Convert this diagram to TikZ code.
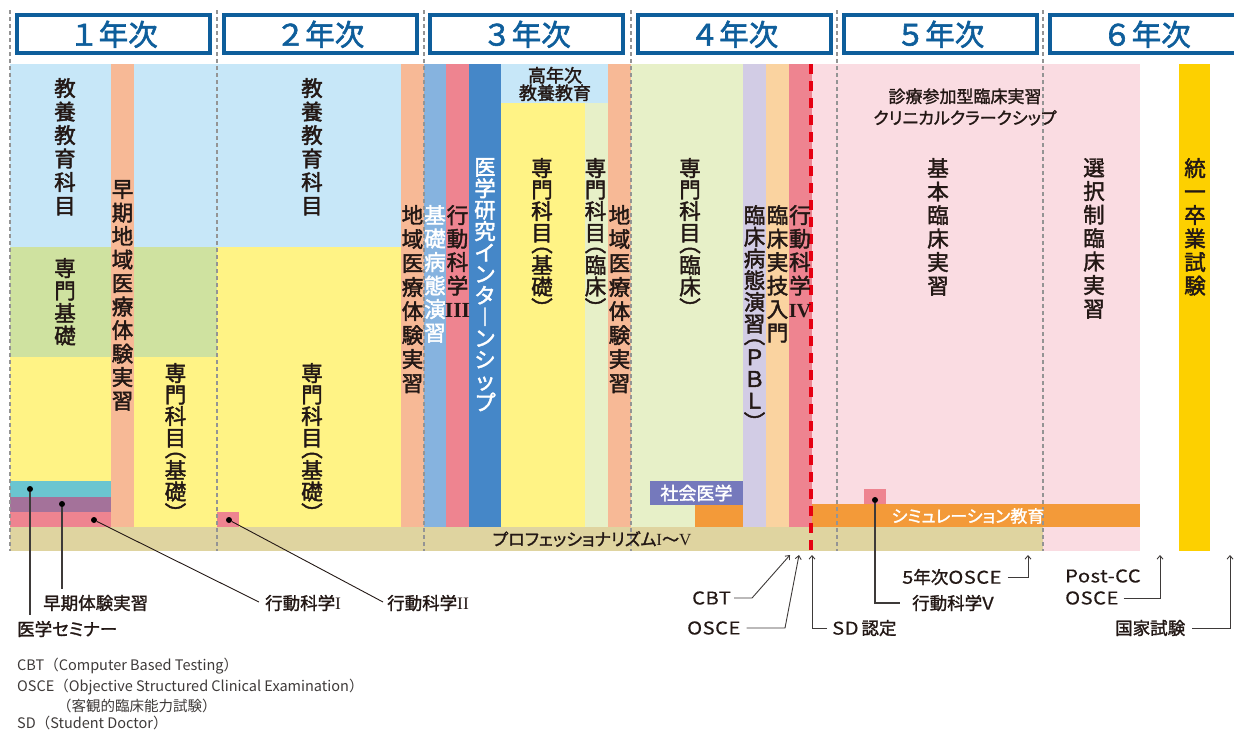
\documentclass[tikz,border=0pt]{standalone}
\usepackage{fontspec}
\setmainfont{Noto Sans CJK JP}
\newfontfamily\jpm[FakeBold=2]{Noto Sans CJK JP}
\newfontfamily\jpmp[FakeBold=1.5,RawFeature=+palt]{Noto Sans CJK JP}
\newfontfamily\jpl[FakeStretch=1.15,LetterSpace=3,FakeBold=0.4]{Noto Sans CJK JP}
\newfontfamily\rmn{Liberation Serif}
\usetikzlibrary{arrows.meta}
\definecolor{hblue}{HTML}{0E5E9B}
\definecolor{ink}{HTML}{231815}
\definecolor{notegray}{HTML}{3E3A39}
\definecolor{leadgray}{HTML}{3E3A39}
\definecolor{lblue}{HTML}{C7E7F8}
\definecolor{green1}{HTML}{CFE2A0}
\definecolor{yel}{HTML}{FFF385}
\definecolor{orng}{HTML}{F7B996}
\definecolor{cyan1}{HTML}{6BC5D0}
\definecolor{purp}{HTML}{A4729A}
\definecolor{pink1}{HTML}{EE8490}
\definecolor{tan}{HTML}{DFD4A0}
\definecolor{sblue}{HTML}{86B3DF}
\definecolor{dblue}{HTML}{4587C8}
\definecolor{lgreen}{HTML}{E7F0C8}
\definecolor{lav}{HTML}{D2CCE5}
\definecolor{peach}{HTML}{FAD3A0}
\definecolor{lpink}{HTML}{FADCE2}
\definecolor{orng2}{HTML}{F39A39}
\definecolor{socmed}{HTML}{7579BC}
\definecolor{gold}{HTML}{FDD000}
\definecolor{redd}{HTML}{E60012}
\newcommand\fsz[2]{\fontsize{#1}{#2}\selectfont}
\newcommand\vlp{\rotatebox[origin=c]{-90}{（}}
\newcommand\vrp{\rotatebox[origin=c]{-90}{）}}
\newcommand\rnum[1]{{\rmn\bfseries #1}}
\begin{document}
\begin{tikzpicture}[x=1pt,y=-1pt,
  txt/.style={text=ink, inner sep=0pt},
  vt/.style={txt, align=center, anchor=north, font=\jpm\fsz{21.5}{23.5}},
  vtp/.style={vt, font=\jpm\fsz{21.5}{21.5}},
  vtw/.style={vt, text=white},
  lbl/.style={txt, anchor=west, font=\jpmp\fsz{17.5}{20}},
  note/.style={text=notegray, inner sep=0pt, anchor=west, font=\fsz{14.5}{16}},
  lead/.style={draw=leadgray, line width=1.2pt},
  thinlead/.style={draw=ink, line width=0.9pt},
  arr/.style={draw=leadgray, line width=0.9pt, -{Straight Barb[length=3.5pt,width=6pt]}},
  yearbox/.style={draw=hblue, line width=4pt, fill=white, minimum width=193pt, minimum height=38pt, inner sep=0pt, text=hblue, font=\jpm\fsz{29.5}{30}},
  dot/.style={circle, fill=black, inner sep=0pt, minimum size=6pt},
  ydash/.style={draw=black!42, line width=1.1pt, dash pattern=on 4pt off 3pt},
  reddash/.style={draw=redd, line width=4.5pt, dash pattern=on 10pt off 7pt},
]
\path[use as bounding box] (0,0) rectangle (1234,729);

% ---------- fills ----------
% year 1
\fill[lblue] (10,64) rectangle (217,247);
\fill[green1] (10,247) rectangle (217,357);
\fill[yel] (10,357) rectangle (217,527);
\fill[cyan1] (10,481) rectangle (111,497);
\fill[purp] (10,497) rectangle (111,512);
\fill[pink1] (10,512) rectangle (111,527);
\fill[orng] (111,64) rectangle (134,527);
% year 2
\fill[lblue] (217,64) rectangle (401,247);
\fill[yel] (217,247) rectangle (401,527);
\fill[pink1] (217,512) rectangle (239,527);
\fill[orng] (401,64) rectangle (424,527);
% year 3
\fill[sblue] (424,64) rectangle (446,527);
\fill[pink1] (446,64) rectangle (469,527);
\fill[dblue] (469,64) rectangle (501,527);
\fill[lblue] (501,64) rectangle (608,103);
\fill[yel] (501,103) rectangle (585,527);
\fill[lgreen] (585,103) rectangle (608,527);
\fill[orng] (608,64) rectangle (631,527);
% year 4
\fill[lgreen] (631,64) rectangle (743,527);
\fill[orng2] (695,505) rectangle (743,527);
\fill[lav] (743,64) rectangle (766,527);
\fill[peach] (766,64) rectangle (789,527);
\fill[pink1] (789,64) rectangle (812,527);
% years 5-6
\fill[lpink] (812,64) rectangle (1140,551);
\fill[pink1] (864,489) rectangle (886,504);
\fill[orng2] (812,504) rectangle (1140,527);
\fill[gold] (1179,64) rectangle (1210,551);
% professionalism bar
\fill[tan] (10,527) rectangle (1043,551);

% ---------- year dividers ----------
\foreach \xx in {10,217,424,631,837,1043} \draw[ydash] (\xx,10) -- (\xx,551);
\draw[reddash] (811,64) -- (811,551);

% ---------- year headers ----------
\node[yearbox] (h1) at (113.5,34.3) {１年次};
\node[yearbox] (h2) at (320,34.3) {２年次};
\node[yearbox] (h3) at (526.5,34.3) {３年次};
\node[yearbox] (h4) at (734,34.3) {４年次};
\node[yearbox] (h5) at (940,34.3) {５年次};
\node[yearbox] (h6) at (1146.5,34.3) {６年次};

% ---------- vertical texts ----------
\node[vt] (t1a) at (65,78) {教\\養\\教\\育\\科\\目};
\node[vt, font=\jpm\fsz{21.5}{22.5}] (t1b) at (65,258) {専\\門\\基\\礎};
\node[vt] (t1c) at (122.5,180) {早\\期\\地\\域\\医\\療\\体\\験\\実\\習};
\node[vtp] (t1d) at (175.5,363) {専\\門\\科\\目\\[-10.5pt]\vlp\\基\\礎\\\vrp};
\node[vt] (t2a) at (312,78) {教\\養\\教\\育\\科\\目};
\node[vtp] (t2b) at (312,363) {専\\門\\科\\目\\[-10.5pt]\vlp\\基\\礎\\\vrp};
\node[vt, font=\jpm\fsz{21.5}{24}] (t2c) at (412.5,205) {地\\域\\医\\療\\体\\験\\実\\習};
\node[vtw] (t3a) at (435,205) {基\\礎\\病\\態\\演\\習};
\node[vt] (t3b) at (457.5,205) {行\\動\\科\\学\\\rnum{III}};
\node[vtw, font=\jpm\fsz{21.5}{21.4}] (t3c) at (485,158) {医\\学\\研\\究\\イ\\ン\\タ\\︱\\ン\\シ\\ッ\\プ};
\node[vtp] (t3d) at (542,158) {専\\門\\科\\目\\[-10.5pt]\vlp\\基\\礎\\\vrp};
\node[vtp] (t3e) at (595.5,158) {専\\門\\科\\目\\[-10.5pt]\vlp\\臨\\床\\\vrp};
\node[vt, font=\jpm\fsz{21.5}{24}] (t3f) at (619.5,205) {地\\域\\医\\療\\体\\験\\実\\習};
\node[vtp] (t4a) at (690,158) {専\\門\\科\\目\\[-10.5pt]\vlp\\臨\\床\\\vrp};
\node[vt, font=\jpm\fsz{21.5}{21.7}] (t4b) at (754.5,205) {臨\\床\\病\\態\\演\\習\\[-10pt]\vlp\\Ｐ\\Ｂ\\Ｌ\\\vrp};
\node[vt] (t4c) at (777.5,205) {臨\\床\\実\\技\\入\\門};
\node[vt] (t4d) at (800,205) {行\\動\\科\\学\\{\fontsize{20}{20}\selectfont\rnum{IV}}};
\node[vt] (t5a) at (938,158) {基\\本\\臨\\床\\実\\習};
\node[vt] (t6a) at (1094,158) {選\\択\\制\\臨\\床\\実\\習};
\node[vt] (t6b) at (1195,158) {統\\一\\卒\\業\\試\\験};

% ---------- horizontal texts in chart ----------
\node[txt, align=center, font=\jpm\fsz{18}{17.5}] (kounen) at (555,84) {高年次\\教養教育};
\node[txt, align=center, font=\jpmp\fsz{17}{21.5}] (cc) at (965,107) {診療参加型臨床実習\\クリニカルクラークシップ};
\node[fill=socmed, text=white, minimum width=93pt, minimum height=24pt, inner sep=0pt, font=\jpm\fsz{18}{20}] (shakai) at (696.5,493) {社会医学};
\node[txt, text=white, font=\jpmp\fsz{17}{20}] (sim) at (968,516) {シミュレーション教育};
\node[txt, font=\jpmp\fsz{17}{20}] (prof) at (592,539) {プロフェッショナリズム{\rmn I}〜{\rmn V}};

% ---------- dots ----------
\node[dot] (dc) at (30,489) {};
\node[dot] (dpu) at (62,504) {};
\node[dot] (dp1) at (94,520) {};
\node[dot] (dp2) at (229,520) {};
\node[dot] (dp5) at (875,500) {};

% ---------- bottom labels ----------
\node[lbl] (sem) at (17,629) {医学セミナー};
\node[lbl] (soki) at (43,603) {早期体験実習};
\node[lbl] (k1) at (265,603) {行動科学{\rmn I}};
\node[lbl] (k2) at (387,603) {行動科学{\rmn II}};
\node[lbl] (k5) at (912,603) {行動科学{\jpl V}};
\node[lbl] (cbt) at (692,598) {{\jpl CBT}};
\node[lbl] (osce) at (687,628) {{\jpl OSCE}};
\node[lbl] (sd) at (832,628) {{\jpl SD}\,認定};
\node[lbl] (o5) at (902,577) {{\jpl 5}年次{\jpl OSCE}};
\node[lbl] (pcc1) at (1065,576) {{\jpl Post-CC}};
\node[lbl] (pcc2) at (1065,598) {{\jpl OSCE}};
\node[lbl] (kok) at (1115,628) {国家試験};

% ---------- leader lines ----------
\draw[lead] (dc) -- ([yshift=6pt]dc |- sem.north);
\draw[lead] (dpu) -- ([yshift=6pt]dpu |- soki.north);
\draw[thinlead] (dp1) -- ([xshift=-6pt,yshift=1pt]k1.west);
\draw[thinlead] (dp2) -- ([xshift=-4pt,yshift=1pt]k2.west);
\draw[lead] (dp5) -- (dp5 |- k5.west) -- ([xshift=-12pt]k5.west);

% ---------- arrows ----------
\coordinate (acbt) at (790,555);
\coordinate (aosce) at (799,555);
\coordinate (asd) at (812,555);
\coordinate (ao5) at (1028,555);
\coordinate (apcc) at (1160,555);
\coordinate (akok) at (1230,555);
\draw[arr] ([xshift=3pt]cbt.east) -- ++(18,0) -- (acbt);
\draw[arr] ([xshift=6pt]osce.east) -- (785,628) -- (aosce);
\draw[arr] ([xshift=-5pt]sd.west) -- (asd |- sd.west) -- (asd);
\draw[arr] ([xshift=6pt]o5.east) -- (ao5 |- o5.east) -- (ao5);
\draw[arr] ([xshift=5pt]pcc2.east) -- (apcc |- pcc2.east) -- (apcc);
\draw[arr] ([xshift=7pt]kok.east) -- (akok |- kok.east) -- (akok);

% ---------- notes ----------
\node[note] (n1) at (17,666) {CBT（Computer Based Testing）};
\node[note] (n2) at (17,687) {OSCE（Objective Structured Clinical Examination）};
\node[note] (n3) at (57,706) {（客観的臨床能力試験）};
\node[note] (n4) at (17,723) {SD（Student Doctor）};
\end{tikzpicture}
\end{document}
